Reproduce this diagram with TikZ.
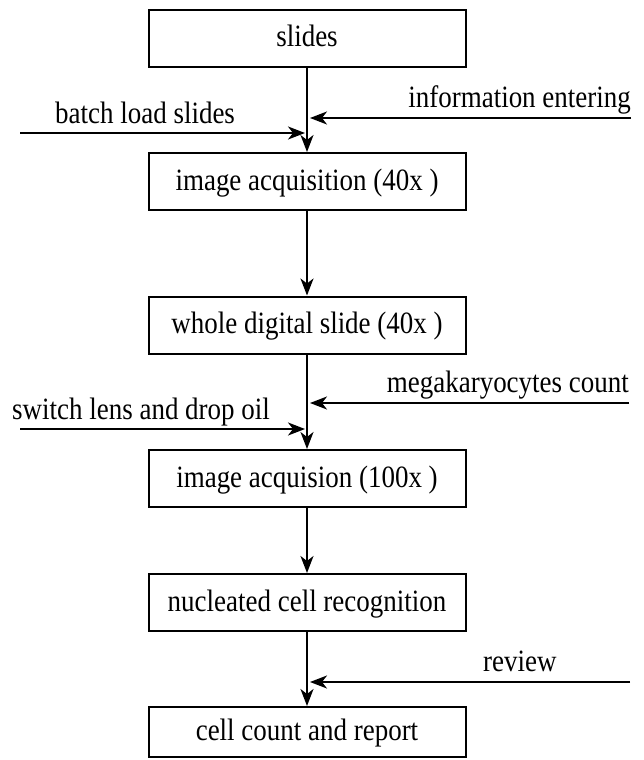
\documentclass[tikz,border=0pt]{standalone}
\usepackage{fontspec}
\setmainfont{Liberation Serif}[FakeStretch=0.87]
\usetikzlibrary{arrows.meta}
\tikzset{
	flownode/.style={rectangle, draw, line width=2pt, minimum width=317pt, minimum height=57pt, text height=23pt, text depth=6pt, inner sep=0pt},
	flowarrow/.style={-{Stealth[length=17pt, width=13pt, inset=5pt]}, line width=2pt},
	sidelabel/.style={inner sep=0pt}
}
\begin{document}
\begin{tikzpicture}[x=1pt, y=-1pt, font=\fontsize{31}{37}\selectfont]
		\useasboundingbox (0,0) rectangle (643,760);
		\node[flownode] at (307,38.5) (S)    {slides};
		\node[flownode] at (307,181.5) (A1)    {image acquisition (40x )};
		\node[flownode] at (307,325) (W)    {whole digital slide (40x )};
		\node[flownode] at (307,478.5) (A2)    {image acquision (100x )};
		\node[flownode] at (307,602.5) (R)    {nucleated cell recognition};
		\node[flownode, minimum height=50pt] at (307,732) (C)    {cell count and report};
		\draw[flowarrow] (S) -- (A1);
		\draw[flowarrow] (A1) -- (W);
		\draw[flowarrow] (W) -- (A2);
		\draw[flowarrow] (A2) -- (R);
		\draw[flowarrow] (R) -- (C);
		\node[sidelabel, anchor=base west] at (55,123) (batch) {batch load slides};
		\node[sidelabel, anchor=base east] at (631,107) (info) {information entering};
		\node[sidelabel, anchor=base west] at (12,419) (lens) {switch lens and drop oil};
		\node[sidelabel, anchor=base east] at (629,392) (mega) {megakaryocytes count};
		\node[sidelabel, anchor=base west] at (483,671) (rev) {review};
		\coordinate (batchin) at (20,133);
		\coordinate (batchend) at (305,133);
		\coordinate (infoin) at (631,118);
		\coordinate (infoend) at (310,118);
		\coordinate (lensin) at (20,429);
		\coordinate (lensend) at (305,429);
		\coordinate (megain) at (629,403);
		\coordinate (megaend) at (310,403);
		\coordinate (revin) at (630,682);
		\coordinate (revend) at (310,682);
		\draw[flowarrow] (batchin) -- (batchend);
		\draw[flowarrow] (infoin) -- (infoend);
		\draw[flowarrow] (lensin) -- (lensend);
		\draw[flowarrow] (megain) -- (megaend);
		\draw[flowarrow] (revin) -- (revend);
	\end{tikzpicture}
\end{document}
